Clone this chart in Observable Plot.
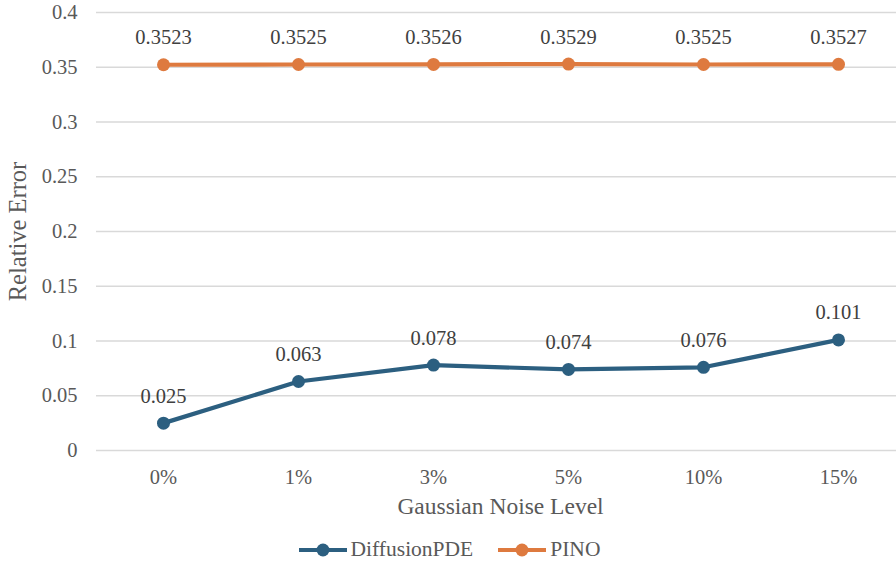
<!DOCTYPE html>
<html><head><meta charset="utf-8">
<script src="https://cdn.jsdelivr.net/npm/d3@7"></script>
<script src="https://cdn.jsdelivr.net/npm/@observablehq/plot@0.6"></script>
</head><body style="margin:0;background:#fff;font-family:'Liberation Serif'">
<div id="chart"></div>
<div id="legend" style="display:flex;justify-content:center;gap:24px;height:33px;margin-top:3px;align-items:center;font-size:21.5px;color:#595959;margin-left:2px;font-family:'Liberation Serif'"></div>
<script>
const noiseLevels = ["0%","1%","3%","5%","10%","15%"];
const diffusionPDE = [0.025,0.063,0.078,0.074,0.076,0.101];
const pino = [0.3523,0.3525,0.3526,0.3529,0.3525,0.3527];
const yTicks = [0,0.05,0.1,0.15,0.2,0.25,0.3,0.35,0.4];
const seriesNames = ["DiffusionPDE","PINO"];
const colors = ["#2C5F80","#DE7A3F"];
const FF = "Liberation Serif";

const rows = [];
noiseLevels.forEach((n,i)=>{
  rows.push({level:n, value:diffusionPDE[i], series:seriesNames[0], label:String(diffusionPDE[i])});
  rows.push({level:n, value:pino[i], series:seriesNames[1], label:pino[i].toFixed(4)});
});

const chart = Plot.plot({
  width:896, height:530,
  marginLeft:96, marginRight:0, marginTop:12, marginBottom:80,
  style:{fontFamily:FF, fontSize:"20.5px", color:"#595959", background:"#fff"},
  x:{type:"point", domain:noiseLevels, range:[163,838], padding:0, label:null},
  y:{domain:[0,0.4], label:null},
  color:{domain:seriesNames, range:colors},
  marks:[
    Plot.ruleY(yTicks,{stroke:"#d9d9d9", strokeWidth:1.3}),
    Plot.axisY({ticks:yTicks, tickSize:0, tickPadding:19, tickFormat:d=>String(d), fill:"#595959", label:null, fontFamily:FF, fontSize:20.5}),
    Plot.axisX({tickSize:0, tickPadding:19, fill:"#595959", label:null, fontFamily:FF, fontSize:20.5}),
    Plot.text(["Relative Error"],{frameAnchor:"left", dx:-78, rotate:-90, textAnchor:"middle", fontSize:24.5, fill:"#595959", fontFamily:FF}),
    Plot.text(["Gaussian Noise Level"],{x:()=>"5%", frameAnchor:"bottom", dy:63, dx:-68, fontSize:23.5, fill:"#595959", fontFamily:FF}),
    Plot.line(rows,{x:"level", y:"value", stroke:"series", strokeWidth:4.2}),
    Plot.dot(rows,{x:"level", y:"value", fill:"series", r:6.5}),
    Plot.text(rows,{x:"level", y:"value", text:"label", dy:-27, fill:"#404040", fontSize:20.5, fontFamily:FF})
  ]
});
document.getElementById("chart").appendChild(chart);

const leg = document.getElementById("legend");
seriesNames.forEach((s,i)=>{
  const sp = document.createElement("span");
  sp.style.cssText = "display:flex;align-items:center;gap:3px;font-family:'Liberation Serif'";
  sp.innerHTML = `<svg width="50" height="16"><line x1="1" x2="49" y1="8" y2="8" stroke="${colors[i]}" stroke-width="4.2"/><circle cx="25" cy="8" r="6.5" fill="${colors[i]}"/></svg>${s}`;
  leg.appendChild(sp);
});
</script>
</body></html>
